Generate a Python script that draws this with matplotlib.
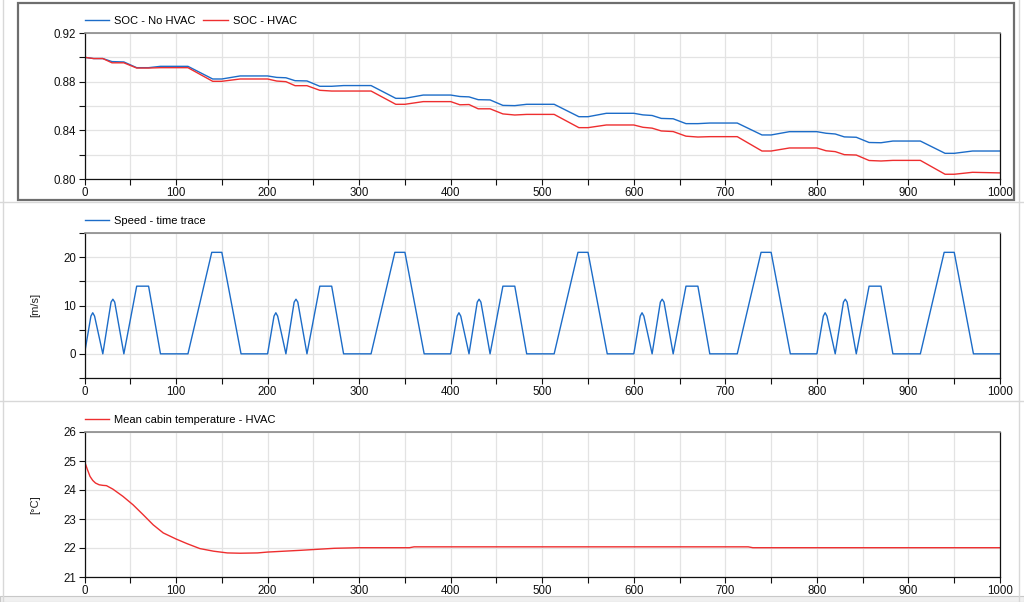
import matplotlib.pyplot as plt
import numpy as np
from matplotlib.ticker import MultipleLocator, FormatStrFormatter
from matplotlib.patches import Rectangle
from matplotlib.lines import Line2D

plt.rcParams['font.family'] = ['Liberation Sans', 'DejaVu Sans']
plt.rcParams['font.size'] = 8

# SOC traces
soc_t = [0, 10, 20, 30, 43, 57, 70, 83, 113, 140, 150, 170,
         200, 210, 220, 230, 243, 257, 270, 283, 313, 340, 350, 370,
         400, 410, 420, 430, 443, 457, 470, 483, 513, 540, 550, 570,
         600, 610, 620, 630, 643, 657, 670, 683, 713, 740, 750, 770,
         800, 810, 820, 830, 843, 857, 870, 883, 913, 940, 950, 970, 1000]
soc_no_hvac = [0.9000, 0.8990, 0.8990, 0.8965, 0.8962, 0.8915, 0.8915, 0.8926, 0.8926, 0.8822, 0.8822, 0.8847,
               0.8847, 0.8835, 0.8832, 0.8808, 0.8806, 0.8762, 0.8762, 0.8768, 0.8768, 0.8663, 0.8663, 0.8690,
               0.8690, 0.8678, 0.8675, 0.8652, 0.8650, 0.8605, 0.8603, 0.8614, 0.8614, 0.8512, 0.8512, 0.8540,
               0.8540, 0.8527, 0.8522, 0.8498, 0.8495, 0.8455, 0.8455, 0.8460, 0.8460, 0.8362, 0.8362, 0.8389,
               0.8389, 0.8376, 0.8370, 0.8346, 0.8343, 0.8300, 0.8298, 0.8312, 0.8312, 0.8211, 0.8211, 0.8230, 0.8230]
soc_hvac = [0.9000, 0.8990, 0.8990, 0.8955, 0.8955, 0.8912, 0.8912, 0.8915, 0.8915, 0.8803, 0.8803, 0.8822,
            0.8822, 0.8805, 0.8800, 0.8767, 0.8767, 0.8729, 0.8723, 0.8723, 0.8723, 0.8614, 0.8614, 0.8636,
            0.8636, 0.8610, 0.8612, 0.8577, 0.8577, 0.8535, 0.8526, 0.8531, 0.8531, 0.8422, 0.8422, 0.8444,
            0.8444, 0.8425, 0.8418, 0.8395, 0.8390, 0.8352, 0.8345, 0.8348, 0.8348, 0.8230, 0.8230, 0.8255,
            0.8255, 0.8232, 0.8225, 0.8200, 0.8197, 0.8152, 0.8148, 0.8153, 0.8153, 0.8039, 0.8039, 0.8055, 0.8050]

# speed time trace
speed_t = [0, 7, 9, 11, 20, 29, 31, 33, 43, 57, 70, 83, 113, 139, 150, 171,
           200, 207, 209, 211, 220, 229, 231, 233, 243, 257, 270, 283, 313, 339, 350, 371,
           400, 407, 409, 411, 420, 429, 431, 433, 443, 457, 470, 483, 513, 539, 550, 571,
           600, 607, 609, 611, 620, 629, 631, 633, 643, 657, 670, 683, 713, 739, 750, 771,
           800, 807, 809, 811, 820, 829, 831, 833, 843, 857, 870, 883, 913, 939, 950, 971, 1000]
speed_v = [0, 7.8, 8.5, 7.8, 0, 10.7, 11.3, 10.7, 0, 14, 14, 0, 0, 21, 21, 0,
           0, 7.8, 8.5, 7.8, 0, 10.7, 11.3, 10.7, 0, 14, 14, 0, 0, 21, 21, 0,
           0, 7.8, 8.5, 7.8, 0, 10.7, 11.3, 10.7, 0, 14, 14, 0, 0, 21, 21, 0,
           0, 7.8, 8.5, 7.8, 0, 10.7, 11.3, 10.7, 0, 14, 14, 0, 0, 21, 21, 0,
           0, 7.8, 8.5, 7.8, 0, 10.7, 11.3, 10.7, 0, 14, 14, 0, 0, 21, 21, 0, 0]

# mean cabin temperature
temp_t = [0, 3, 6, 9, 12, 16, 20, 24, 31, 42, 53, 64, 75, 86, 100, 112, 126, 141, 156,
          170, 189, 200, 236, 273, 300, 355, 360, 725, 730, 1000]
temp_v = [25.0, 24.72, 24.47, 24.33, 24.24, 24.18, 24.16, 24.15, 24.03, 23.78, 23.49, 23.15, 22.80,
          22.52, 22.31, 22.15, 21.98, 21.89, 21.83, 21.82, 21.83, 21.86, 21.92, 21.99, 22.01,
          22.01, 22.04, 22.04, 22.01, 22.01]

blue = '#1c6cc8'
red = '#ee2e2f'

fig = plt.figure(figsize=(10.24, 6.02), dpi=100)


def fx(x):
    return x / 1024


def fy(y):
    return 1 - y / 602


# window decorations
fig.add_artist(Line2D([fx(3), fx(3)], [0, 1], color='#d8d8d8', lw=1))
fig.add_artist(Line2D([fx(1019), fx(1019)], [0, 1], color='#d8d8d8', lw=1))
fig.add_artist(Line2D([0, 1], [fy(201.5), fy(201.5)], color='#d8d8d8', lw=1))
fig.add_artist(Line2D([0, 1], [fy(400.5), fy(400.5)], color='#d8d8d8', lw=1))
fig.add_artist(Rectangle((0, 0), 1, fy(596), transform=fig.transFigure,
                         facecolor='#f0f0f0', edgecolor='#c8c8c8', lw=0.8))
fig.add_artist(Rectangle((fx(18), fy(200)), fx(1014 - 18), 197 / 602, transform=fig.transFigure,
                         fill=False, edgecolor='#6e6e6e', lw=1.6))

left = fx(84.5)
width = fx(1000) - left
ax1 = fig.add_axes([left, fy(179), width, 146 / 602])
ax2 = fig.add_axes([left, fy(378), width, 145 / 602])
ax3 = fig.add_axes([left, fy(577), width, 145 / 602])

ax1.plot(soc_t, soc_no_hvac, color=blue, lw=1.0, label='SOC - No HVAC')
ax1.plot(soc_t, soc_hvac, color=red, lw=1.0, label='SOC - HVAC')
ax1.set_ylim(0.80, 0.92)
ax1.yaxis.set_major_locator(MultipleLocator(0.04))
ax1.yaxis.set_minor_locator(MultipleLocator(0.02))
ax1.yaxis.set_major_formatter(FormatStrFormatter('%.2f'))

ax2.plot(speed_t, speed_v, color=blue, lw=1.0, label='Speed - time trace')
ax2.set_ylim(-5, 25)
ax2.yaxis.set_major_locator(MultipleLocator(10))
ax2.yaxis.set_minor_locator(MultipleLocator(5))

ax3.plot(temp_t, temp_v, color=red, lw=1.0, label='Mean cabin temperature - HVAC')
ax3.set_ylim(21, 26)
ax3.yaxis.set_major_locator(MultipleLocator(1))

for ax in (ax1, ax2, ax3):
    ax.set_xlim(0, 1000)
    ax.xaxis.set_major_locator(MultipleLocator(100))
    ax.xaxis.set_minor_locator(MultipleLocator(50))
    ax.grid(True, which='both', color='#e3e3e3', lw=0.9)
    ax.set_axisbelow(True)
    ax.tick_params(which='both', direction='out', length=4, width=0.8,
                   labelsize=8.3, colors='#111111', pad=2)
    ax.spines['top'].set_color('#8a8a8a')
    ax.spines['top'].set_linewidth(1.2)
    for s in ('left', 'bottom', 'right'):
        ax.spines[s].set_color('#111111')
        ax.spines[s].set_linewidth(0.9)
    ax.legend(loc='lower left', bbox_to_anchor=(0, 1.05), ncol=2, frameon=False,
              fontsize=8, handlelength=2.2, handletextpad=0.45, columnspacing=0.7,
              borderaxespad=0, borderpad=0)

fig.text(fx(35), fy(305), '[m/s]', rotation=90, ha='center', va='center', fontsize=8, color='#222222')
fig.text(fx(35), fy(505), '[°C]', rotation=90, ha='center', va='center', fontsize=8, color='#222222')

fig.savefig('out.png', dpi=100)
